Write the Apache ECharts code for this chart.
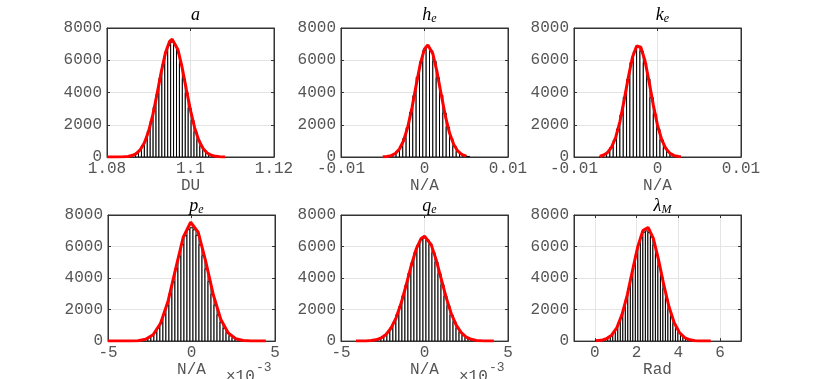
<!DOCTYPE html>
<html>
<head>
<meta charset="utf-8">
<script src="https://cdn.jsdelivr.net/npm/echarts@6/dist/echarts.min.js"></script>
<style>
  html, body { margin: 0; background: #fff; }
  #main { width: 830px; height: 379px; }
</style>
</head>
<body>
<div id="main"></div>
<script>
// ---- a (DU) ----
const aBinX = [1.0865, 1.0872, 1.0879, 1.0886, 1.0893, 1.0900, 1.0907, 1.0914, 1.0921, 1.0928, 1.0935, 1.0942, 1.0949, 1.0956,
  1.0963, 1.0970, 1.0977, 1.0984, 1.0991, 1.0998, 1.1005, 1.1012, 1.1019, 1.1026, 1.1033, 1.1040, 1.1047, 1.1054];
const aBinY = [128, 250, 409, 690, 1052, 1597, 2231, 3068, 3925, 4897, 5730, 6488, 6910, 7120,
  6950, 6441, 5770, 4851, 3972, 3031, 2262, 1566, 1073, 668, 421, 236, 139, 70];
const aFitX = [1.080, 1.082, 1.084, 1.085, 1.086, 1.087, 1.088, 1.089, 1.090, 1.091, 1.092, 1.093, 1.094, 1.095, 1.0956,
  1.096, 1.097, 1.098, 1.099, 1.100, 1.101, 1.102, 1.103, 1.104, 1.105, 1.106, 1.107, 1.108, 1.1083];
const aFitY = [0, 1, 12, 34, 88, 210, 458, 905, 1624, 2648, 3922, 5280, 6457, 7175, 7300,
  7244, 6646, 5539, 4195, 2886, 1804, 1025, 529, 248, 106, 41, 14, 4, 3];

// ---- h_e (N/A) ----
const heBinX = [-0.0044, -0.0040, -0.0036, -0.0032, -0.0028, -0.0024, -0.0020, -0.0016, -0.0012, -0.0008, -0.0004, 0.0000,
  0.0004, 0.0008, 0.0012, 0.0016, 0.0020, 0.0024, 0.0028, 0.0032, 0.0036, 0.0040, 0.0044, 0.0048, 0.0052];
const heBinY = [35, 86, 172, 361, 655, 1152, 1826, 2768, 3801, 4950, 5902, 6620,
  6860, 6585, 5934, 4912, 3830, 2731, 1850, 1137, 668, 350, 180, 81, 37];
const heFitX = [-0.005, -0.0045, -0.004, -0.0035, -0.003, -0.0025, -0.002, -0.0015, -0.001, -0.0005, 0, 0.0004,
  0.0005, 0.001, 0.0015, 0.002, 0.0025, 0.003, 0.0035, 0.004, 0.0045, 0.005];
const heFitY = [9, 29, 84, 216, 497, 1020, 1866, 3048, 4443, 5778, 6701, 6950,
  6934, 6402, 5274, 3874, 2539, 1485, 775, 361, 150, 55];

// ---- k_e (N/A) ----
const keBinX = [-0.0067, -0.0063, -0.0059, -0.0055, -0.0051, -0.0047, -0.0043, -0.0039, -0.0035, -0.0031, -0.0027, -0.0023,
  -0.0019, -0.0015, -0.0011, -0.0007, -0.0003, 0.0001, 0.0005, 0.0009, 0.0013, 0.0017, 0.0021, 0.0025];
const keBinY = [66, 155, 306, 601, 1046, 1739, 2611, 3714, 4810, 5858, 6530, 6815,
  6560, 5822, 4843, 3683, 2640, 1716, 1061, 588, 315, 148, 70, 27];
const keFitX = [-0.0069, -0.0065, -0.006, -0.0055, -0.005, -0.0045, -0.004, -0.0035, -0.003, -0.0025, -0.0023,
  -0.002, -0.0015, -0.001, -0.0005, 0, 0.0005, 0.001, 0.0015, 0.002, 0.0025, 0.0028];
const keFitY = [45, 105, 268, 609, 1227, 2198, 3497, 4933, 6185, 6884, 6950,
  6803, 5968, 4648, 3218, 1976, 1077, 521, 224, 85, 29, 14];

// ---- p_e (N/A, x10^-3) ----
const peBinX = [-3.24, -3.06, -2.88, -2.70, -2.52, -2.34, -2.16, -1.98, -1.80, -1.62, -1.44, -1.26, -1.08, -0.90, -0.72, -0.54, -0.36, -0.18,
  0, 0.18, 0.36, 0.54, 0.72, 0.90, 1.08, 1.26, 1.44, 1.62, 1.80, 1.98, 2.16, 2.34, 2.52, 2.70, 2.88, 3.06, 3.24];
const peBinY = [20, 42, 70, 131, 209, 352, 537, 829, 1188, 1695, 2270, 3001, 3760, 4610, 5389, 6140, 6688, 7085,
  7190, 7060, 6715, 6110, 5418, 4583, 3786, 2975, 2294, 1671, 1204, 812, 549, 340, 218, 124, 75, 39, 22];
const peFitX = [-5, -4.55, -4.1, -3.65, -3.2, -2.75, -2.3, -1.85, -1.4, -0.95, -0.5, -0.05,
  0.4, 0.85, 1.3, 1.75, 2.2, 2.65, 3.1, 3.55, 4.0, 4.45];
const peFitY = [0, 0, 1, 5, 26, 114, 402, 1134, 2549, 4579, 6574, 7540,
  6910, 5059, 2960, 1384, 517, 154, 37, 7, 1, 0];

// ---- q_e (N/A, x10^-3) ----
const qeBinX = [-3.24, -3.06, -2.88, -2.70, -2.52, -2.34, -2.16, -1.98, -1.80, -1.62, -1.44, -1.26, -1.08, -0.90, -0.72, -0.54, -0.36, -0.18,
  0, 0.18, 0.36, 0.54, 0.72, 0.90, 1.08, 1.26, 1.44, 1.62, 1.80, 1.98, 2.16, 2.34, 2.52, 2.70, 2.88, 3.06, 3.24];
const qeBinY = [27, 52, 85, 150, 236, 384, 571, 860, 1203, 1682, 2214, 2879, 3555, 4310, 4987, 5640, 6108, 6455,
  6540, 6430, 6135, 5615, 5012, 4281, 3580, 2853, 2237, 1661, 1220, 843, 582, 374, 243, 145, 88, 49, 29];
const qeFitX = [-4.1, -3.8, -3.5, -3.2, -2.9, -2.6, -2.3, -2.0, -1.7, -1.4, -1.1, -0.8, -0.5, -0.2, 0,
  0.1, 0.4, 0.7, 1.0, 1.3, 1.6, 1.9, 2.2, 2.5, 2.8, 3.1, 3.4, 3.7, 4.0, 4.15];
const qeFitY = [1, 4, 11, 32, 83, 197, 423, 829, 1477, 2397, 3542, 4765, 5838, 6513, 6650,
  6615, 6119, 5152, 3951, 2759, 1753, 1015, 535, 257, 112, 45, 16, 5, 2, 0];

// ---- lambda_M (Rad) ----
const lmBinX = [0.08, 0.20, 0.32, 0.44, 0.56, 0.68, 0.80, 0.92, 1.04, 1.16, 1.28, 1.40, 1.52, 1.64, 1.76, 1.88, 2.00, 2.12, 2.24, 2.36,
  2.48, 2.60, 2.72, 2.84, 2.96, 3.08, 3.20, 3.32, 3.44, 3.56, 3.68, 3.80, 3.92, 4.04, 4.16, 4.28, 4.40, 4.52, 4.64, 4.76, 4.88];
const lmBinY = [16, 31, 50, 92, 143, 238, 355, 551, 786, 1135, 1530, 2070, 2648, 3350, 4046, 4815, 5480, 6125, 6572, 6910,
  6990, 6880, 6605, 6094, 5512, 4780, 4075, 3322, 2671, 2045, 1556, 1115, 800, 538, 366, 229, 149, 87, 53, 29, 18];
const lmFitX = [0.05, 0.3, 0.55, 0.8, 1.05, 1.3, 1.55, 1.8, 2.05, 2.3, 2.55, 2.8, 3.05, 3.3, 3.55, 3.8, 4.05, 4.3, 4.55, 4.8, 5.05, 5.3, 5.55];
const lmFitY = [15, 49, 145, 374, 846, 1681, 2923, 4461, 5970, 7008, 7213, 6511, 5154, 3578, 2179, 1163, 544, 224, 80, 25, 7, 2, 0];

const lmTicks = [0, 2, 4, 6];

const mono = 'Liberation Mono';
const ink = '#555';
const gridColor = '#e4e4e4';

const panels = [
  { title: '{i|a}', xName: 'DU', min: 1.08, max: 1.12, interval: 0.02, binW: 0.0007,
    bx: aBinX, by: aBinY, fx: aFitX, fy: aFitY, left: 107, top: 28 },
  { title: '{i|h}{s|e}', xName: 'N/A', min: -0.01, max: 0.01, interval: 0.01, binW: 0.0004,
    bx: heBinX, by: heBinY, fx: heFitX, fy: heFitY, left: 341, top: 28 },
  { title: '{i|k}{s|e}', xName: 'N/A', min: -0.01, max: 0.01, interval: 0.01, binW: 0.0004,
    bx: keBinX, by: keBinY, fx: keFitX, fy: keFitY, left: 574, top: 28 },
  { title: '{i|p}{s|e}', xName: 'N/A', min: -5, max: 5, interval: 5, binW: 0.18,
    bx: peBinX, by: peBinY, fx: peFitX, fy: peFitY, left: 108, top: 215, exp: true },
  { title: '{i|q}{s|e}', xName: 'N/A', min: -5, max: 5, interval: 5, binW: 0.18,
    bx: qeBinX, by: qeBinY, fx: qeFitX, fy: qeFitY, left: 341, top: 215, exp: true },
  { title: '{i|λ}{s|M}', xName: 'Rad', min: -1, max: 7, custom: lmTicks, binW: 0.12,
    bx: lmBinX, by: lmBinY, fx: lmFitX, fy: lmFitY, left: 574, top: 215 }
];

const W = 167, H = 129;
const option = { animation: false, title: [], grid: [], xAxis: [], yAxis: [], series: [], graphic: [] };

panels.forEach((p, i) => {
  option.grid.push({ left: p.left, top: p.top, width: W, height: H, show: true,
    borderColor: '#333', borderWidth: 1 });

  option.title.push({
    text: p.title, left: p.left + W / 2, top: p.top - (i < 3 ? 28 : 24), textAlign: 'center',
    textStyle: {
      fontWeight: 'normal',
      rich: {
        i: { fontFamily: 'Liberation Serif', fontStyle: 'italic', fontWeight: 'normal', fontSize: 18, color: '#000', lineHeight: 20 },
        s: { fontFamily: 'Liberation Serif', fontStyle: 'italic', fontWeight: 'normal', fontSize: 12, color: '#000',
             verticalAlign: 'bottom', lineHeight: 12 }
      }
    }
  });

  const tickOpt = { inside: true, length: 3, lineStyle: { color: '#333' } };
  const lineOpt = { show: true, onZero: false, lineStyle: { color: '#333' } };
  const xMain = {
    type: 'value', gridIndex: i, min: p.min, max: p.max, position: 'bottom',
    name: p.xName, nameLocation: 'middle', nameGap: 17,
    nameTextStyle: { fontFamily: mono, fontSize: 16, color: ink },
    axisLine: lineOpt,
    axisTick: Object.assign({}, tickOpt),
    axisLabel: { fontFamily: mono, fontSize: 16, color: ink, margin: 4, showMinLabel: true, showMaxLabel: true },
    splitLine: { show: true, lineStyle: { color: gridColor } }
  };
  if (p.custom) {
    xMain.axisTick.customValues = p.custom;
    xMain.axisLabel.customValues = p.custom;
  } else {
    xMain.interval = p.interval;
  }
  option.xAxis.push(xMain);
  const xTop = {
    type: 'value', gridIndex: i, min: p.min, max: p.max, position: 'top',
    axisLine: lineOpt, axisTick: Object.assign({}, tickOpt), axisLabel: { show: false }, splitLine: { show: false }
  };
  if (p.custom) xTop.axisTick.customValues = p.custom; else xTop.interval = p.interval;
  option.xAxis.push(xTop);

  option.yAxis.push({
    type: 'value', gridIndex: i, min: 0, max: 8000, interval: 2000, position: 'left',
    axisLine: lineOpt, axisTick: Object.assign({}, tickOpt),
    axisLabel: { fontFamily: mono, fontSize: 16, color: ink, margin: 5, formatter: v => String(v) },
    splitLine: { show: true, lineStyle: { color: gridColor } }
  });
  option.yAxis.push({
    type: 'value', gridIndex: i, min: 0, max: 8000, interval: 2000, position: 'right',
    axisLine: lineOpt, axisTick: Object.assign({}, tickOpt), axisLabel: { show: false }, splitLine: { show: false }
  });

  const bw = p.binW;
  option.series.push({
    type: 'custom', xAxisIndex: 2 * i, yAxisIndex: 2 * i, clip: true,
    data: p.bx.map((x, k) => [x, p.by[k]]),
    renderItem: (params, api) => {
      const x = api.value(0), y = api.value(1);
      const a = api.coord([x - bw / 2, y]);
      const b = api.coord([x + bw / 2, 0]);
      return { type: 'rect', shape: { x: a[0], y: a[1], width: b[0] - a[0], height: b[1] - a[1] },
        style: { fill: '#fff', stroke: '#000', lineWidth: 1 } };
    }
  });
  option.series.push({
    type: 'line', xAxisIndex: 2 * i, yAxisIndex: 2 * i, showSymbol: false, z: 5,
    data: p.fx.map((x, k) => [x, p.fy[k]]),
    lineStyle: { color: '#ff0000', width: 3 }
  });

  if (p.exp) {
    const r = p.left + W;
    option.graphic.push({ type: 'text', x: r - 49, y: 369,
      style: { text: '×10', font: '16px "Liberation Mono"', fill: ink } });
    option.graphic.push({ type: 'text', x: r - 19, y: 361,
      style: { text: '-3', font: '13px "Liberation Mono"', fill: ink } });
  }
});

const chart = echarts.init(document.getElementById('main'));
chart.setOption(option);
</script>
</body>
</html>
